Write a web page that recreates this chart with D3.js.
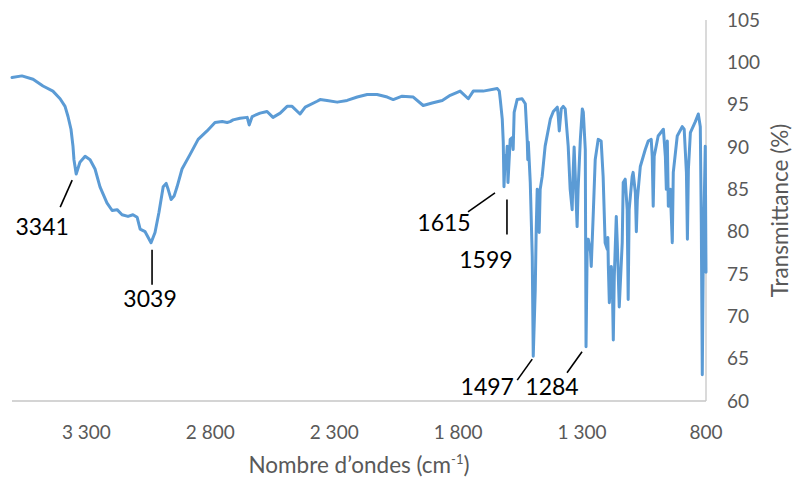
<!DOCTYPE html>
<html>
<head>
<meta charset="utf-8">
<script src="https://cdn.jsdelivr.net/npm/d3@7"></script>
<style>
  html, body { margin: 0; padding: 0; background: #fff; }
  svg { display: block; font-family: Lato, "Noto Sans", sans-serif; }
</style>
</head>
<body>
<svg id="chart" width="795" height="481"></svg>
<script>
// IR spectrum: wavenumber (cm-1) and transmittance (%)
const wavenumbers = [
  3600, 3560, 3515, 3475, 3435, 3406, 3386, 3374, 3362, 3354, 3350, 3341,
  3326, 3305, 3285, 3265, 3245, 3217, 3196, 3176, 3156, 3132, 3112, 3095,
  3083, 3063, 3039, 3023, 3007, 2990, 2978, 2970, 2958, 2946, 2934, 2914,
  2882, 2849, 2813, 2781, 2752, 2732, 2720, 2708, 2680, 2651, 2643, 2631,
  2599, 2571, 2547, 2518, 2490, 2470, 2438, 2417, 2369, 2357, 2329, 2288,
  2248, 2207, 2167, 2127, 2086, 2062, 2026, 1981, 1941, 1905, 1864, 1832,
  1792, 1759, 1739, 1699, 1642, 1634, 1630, 1622, 1618, 1615, 1610, 1606,
  1602, 1599, 1590, 1582, 1578, 1574, 1562, 1542, 1529, 1521, 1519, 1517,
  1509, 1501, 1497, 1489, 1485, 1481, 1477, 1473, 1469, 1461, 1449, 1428,
  1416, 1400, 1396, 1392, 1384, 1376, 1368, 1356, 1348, 1340, 1336, 1332,
  1328, 1320, 1316, 1307, 1299, 1295, 1287, 1284, 1279, 1275, 1266, 1263,
  1255, 1247, 1235, 1223, 1215, 1207, 1198, 1196, 1194, 1190, 1182, 1178,
  1174, 1170, 1162, 1158, 1150, 1138, 1134, 1126, 1118, 1114, 1110, 1098,
  1094, 1085, 1081, 1077, 1065, 1045, 1033, 1021, 1017, 1013, 1009, 993,
  972, 964, 960, 956, 952, 944, 936, 932, 916, 896, 888, 879,
  875, 871, 863, 843, 831, 823, 819, 815, 811, 803, 800
];
const transmittance = [
  98.2, 98.4, 98.0, 97.2, 96.6, 95.7, 94.8, 93.6, 92.1, 90.1, 88.5, 86.8,
  88.2, 88.9, 88.5, 87.4, 85.3, 83.4, 82.5, 82.6, 82.0, 81.8, 82.0, 81.7,
  80.3, 80.0, 78.7, 79.9, 82.3, 85.3, 85.7, 85.0, 83.8, 84.2, 85.3, 87.4,
  89.1, 90.9, 91.9, 92.9, 93.0, 92.9, 93.0, 93.2, 93.4, 93.5, 92.6, 93.6,
  94.0, 94.2, 93.5, 94.0, 94.8, 94.8, 93.9, 94.7, 95.4, 95.6, 95.5, 95.3,
  95.5, 95.9, 96.2, 96.2, 95.9, 95.6, 96.0, 95.9, 94.9, 95.2, 95.5, 96.1,
  96.6, 95.7, 96.6, 96.6, 96.9, 96.6, 95.6, 93.3, 90.6, 85.3, 89.0, 88.0,
  90.1, 85.8, 90.9, 91.1, 89.7, 94.1, 95.6, 95.7, 95.1, 90.6, 88.5, 90.6,
  85.8, 77.1, 65.3, 73.1, 80.3, 85.0, 84.2, 79.9, 85.0, 86.5, 90.1, 93.3,
  94.2, 94.7, 93.6, 91.9, 94.5, 94.8, 94.5, 90.1, 85.0, 82.6, 87.0, 90.0,
  87.0, 80.6, 85.0, 90.9, 94.5, 94.1, 89.7, 66.4, 79.1, 79.1, 77.6, 75.9,
  82.0, 88.5, 90.9, 90.7, 86.5, 78.7, 77.9, 79.3, 75.9, 71.6, 75.9, 74.0,
  67.2, 74.7, 81.8, 78.7, 71.1, 78.7, 85.8, 86.2, 82.6, 72.0, 82.6, 86.5,
  87.0, 84.6, 80.0, 83.8, 87.7, 89.7, 90.7, 90.9, 88.9, 83.0, 88.9, 91.3,
  92.1, 88.9, 85.0, 90.7, 83.0, 85.0, 78.7, 87.0, 91.3, 92.4, 92.1, 87.0,
  79.1, 87.4, 91.7, 93.0, 93.9, 92.4, 81.1, 63.1, 77.1, 90.1, 75.2
];

// Axis ticks
const xTicks = [3300, 2800, 2300, 1800, 1300, 800];
const xTickLabels = ["3 300", "2 800", "2 300", "1 800", "1 300", "800"];
const yTicks = [60, 65, 70, 75, 80, 85, 90, 95, 100, 105];

// Labelled bands
const bandWavenumbers = [3341, 3039, 1615, 1599, 1497, 1284];
const bandLabels = ["3341", "3039", "1615", "1599", "1497", "1284"];

const svg = d3.select("#chart");
const plot = { left: 12, right: 706, top: 20, bottom: 401 };

const x = d3.scaleLinear().domain([3600, 800]).range([plot.left, plot.right]);
const y = d3.scaleLinear().domain([60, 105]).range([plot.bottom, plot.top]);

const points = wavenumbers.map((w, i) => ({ w, t: transmittance[i] }));

// Axis lines (no tick marks)
const axisColor = "#c6c6c6";
svg.append("line")
  .attr("x1", plot.left).attr("x2", plot.right)
  .attr("y1", plot.bottom).attr("y2", plot.bottom)
  .attr("stroke", axisColor).attr("stroke-width", 1.3);
svg.append("line")
  .attr("x1", plot.right).attr("x2", plot.right)
  .attr("y1", plot.top).attr("y2", plot.bottom)
  .attr("stroke", axisColor).attr("stroke-width", 1.3);

// X tick labels
svg.append("g").selectAll("text")
  .data(xTicks)
  .join("text")
  .attr("x", d => x(d))
  .attr("y", 439)
  .attr("text-anchor", "middle")
  .attr("font-size", 19)
  .attr("fill", "#595959")
  .text((d, i) => xTickLabels[i]);

// Y tick labels (right side)
svg.append("g").selectAll("text")
  .data(yTicks)
  .join("text")
  .attr("x", 727)
  .attr("y", d => y(d))
  .attr("dy", "0.35em")
  .attr("font-size", 19)
  .attr("fill", "#595959")
  .text(d => d);

// Axis titles
const xTitle = svg.append("text")
  .attr("x", (plot.left + plot.right) / 2)
  .attr("y", 473)
  .attr("text-anchor", "middle")
  .attr("font-size", 22.5)
  .attr("fill", "#595959");
xTitle.append("tspan").text("Nombre d\u2019ondes (cm");
xTitle.append("tspan").attr("font-size", 13).attr("dy", -9).text("-1");
xTitle.append("tspan").attr("dy", 9).text(")");

svg.append("text")
  .attr("transform", `translate(788, ${(plot.top + plot.bottom) / 2}) rotate(-90)`)
  .attr("text-anchor", "middle")
  .attr("font-size", 22.5)
  .attr("fill", "#595959")
  .text("Transmittance (%)");

// Spectrum line
const line = d3.line()
  .x(d => x(d.w))
  .y(d => y(d.t));

svg.append("path")
  .datum(points)
  .attr("fill", "none")
  .attr("stroke", "#5B9BD5")
  .attr("stroke-width", 3)
  .attr("stroke-linejoin", "round")
  .attr("stroke-linecap", "round")
  .attr("d", line);

// Band annotations: leader line offsets and text anchor offsets relative to each band minimum
const leaderOffsets = [
  [[-4, 6], [-16, 33]],
  [[1, 7], [1, 42]],
  [[-9, 6], [-36, 25]],
  [[-1, 17], [-1, 52]],
  [[-1, 3], [-16, 24]],
  [[-4, 5], [-19, 26]]
];
const labelOffsets = [[-34, 61], [-1, 64], [-60, 44], [-22, 85], [-46, 39], [-34, 48]];

const ann = svg.append("g");
bandWavenumbers.forEach((w, i) => {
  const p = points.find(d => d.w === w);
  const px = x(p.w), py = y(p.t);
  const [a, b] = leaderOffsets[i];
  ann.append("line")
    .attr("x1", px + a[0]).attr("y1", py + a[1])
    .attr("x2", px + b[0]).attr("y2", py + b[1])
    .attr("stroke", "#000").attr("stroke-width", 1.6);
  ann.append("text")
    .attr("x", px + labelOffsets[i][0])
    .attr("y", py + labelOffsets[i][1])
    .attr("text-anchor", "middle")
    .attr("font-size", 23)
    .attr("fill", "#000")
    .text(bandLabels[i]);
});
</script>
</body>
</html>
